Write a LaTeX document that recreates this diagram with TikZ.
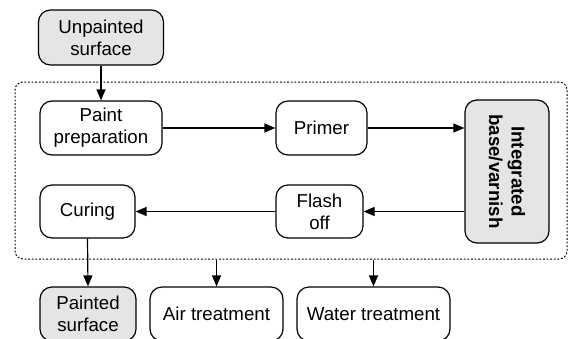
\documentclass[tikz,border=0pt]{standalone}
\usepackage{fontspec}
\setmainfont{Liberation Sans}
\usetikzlibrary{arrows.meta}

\begin{document}
\begin{tikzpicture}[x=1pt, y=-1pt, line width=1.2pt, >={Triangle[length=11pt,width=9pt]},
	every node/.style={font=\fontsize{18.7}{22}\selectfont, align=center},
	stage/.style={draw, rounded corners=12pt, inner sep=0pt},
	shaded/.style={stage, fill=black!10}]
	\useasboundingbox (0,0) rectangle (572,338);
	% dotted frame round the process steps
	\node[draw, line width=1pt, dash pattern=on 1.8pt off 1.8pt, rounded corners=8pt, minimum width=552pt, minimum height=177pt] (stages) at (291,170.5) {};
	\node[shaded, minimum width=125pt, minimum height=55pt] (unpainted) at (101,37.5) {Unpainted\\surface};
	\node[stage, minimum width=122pt, minimum height=54pt] (prep) at (101,128) {Paint\\preparation};
	\node[stage, minimum width=91pt, minimum height=54pt] (primer) at (321.5,128) {Primer};
	\node[shaded, minimum width=84pt, minimum height=143pt] (integ) at (507,171.5) {};
	\node[rotate=-90, font=\fontsize{18.7}{22.5}\selectfont\bfseries] at (integ.center) {Integrated\\base/varnish};
	\node[stage, minimum width=87pt, minimum height=53pt] (flash) at (319.5,211.5) {Flash\\off};
	\node[stage, minimum width=95pt, minimum height=53pt] (curing) at (87.5,211.5) {Curing};
	\node[shaded, minimum width=96pt, minimum height=54pt] (painted) at (88,314) {Painted\\surface};
	\node[stage, minimum width=133pt, minimum height=54pt] (air) at (216.5,314) {Air treatment};
	\node[stage, minimum width=153pt, minimum height=54pt] (water) at (373.5,314) {Water treatment};
	\draw[->] (unpainted.south) -- (prep.north);
	\draw[->] (prep.east) -- (primer.west);
	\draw[->] (primer.east) -- (primer.east -| integ.west);
	\draw[->] (flash.east -| integ.west) -- (flash.east);
	\draw[->] (flash.west) -- (curing.east);
	\draw[->] (curing.south) -- (painted.north);
	\draw[->] (stages.south -| air.north) -- (air.north);
	\draw[->] (stages.south -| water.north) -- (water.north);
\end{tikzpicture}
\end{document}
